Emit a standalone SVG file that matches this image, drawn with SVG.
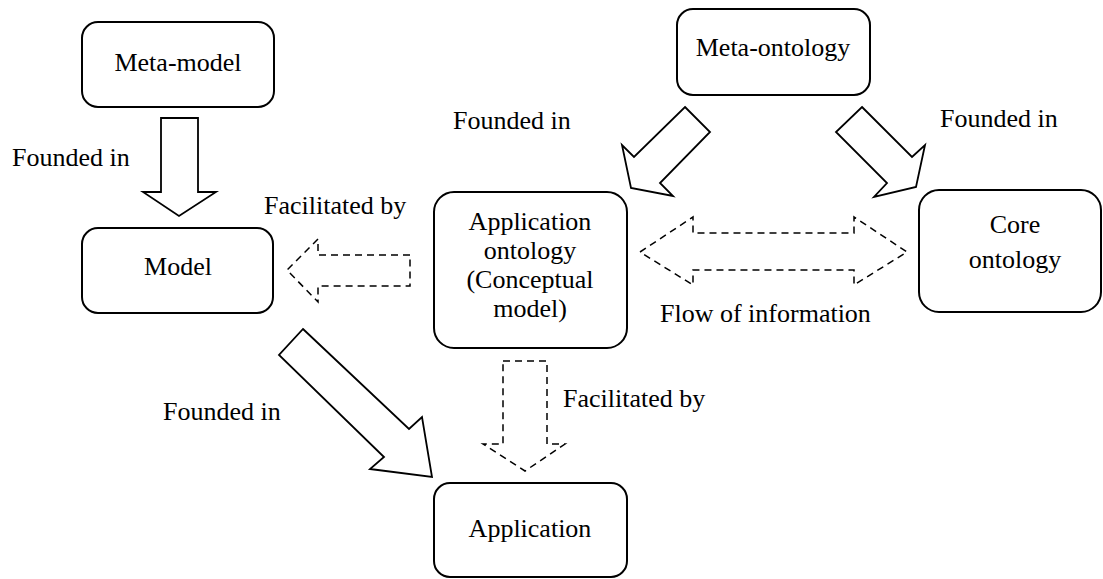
<svg xmlns="http://www.w3.org/2000/svg" width="1103" height="579" viewBox="0 0 1103 579">
<style>
.box{fill:#fff;stroke:#000;stroke-width:2}
.arr{fill:#fff;stroke:#000;stroke-width:1.8;stroke-linejoin:miter}
.dash{fill:none;stroke:#000;stroke-width:1.5;stroke-dasharray:7,5}
.t{font-family:'Liberation Serif','Times New Roman',Times,serif;font-size:26px;fill:#000}
.c{text-anchor:middle}
</style>
<rect width="1103" height="579" fill="#fff"/>
<g id="connectors">
<polygon class="arr" points="161,118 198,118 198,192 216,192 179,216 143,192 161,192"/>
<polygon class="arr" points="685,107 710,132 660,183 673,196 631,188 622,145 634,157"/>
<polygon class="arr" points="862,107 912,157 925,145 916,187 874,197 887,183 836,132"/>
<polygon class="arr" points="303,329 409,429 422,417 432,477 370,469 384,457 279,355"/>
<polygon class="dash" points="410,255 318,255 318,239 287,270 318,302 318,286 410,286"/>
<polygon class="dash" points="503,361 547,361 547,444 565,444 525,471 483,444 503,444"/>
<polygon class="dash" points="640,252 693,217 693,233 854,233 854,217 907,252 854,285 854,270 693,270 693,285"/>
</g>
<g id="labels">
<text class="t" x="12" y="166">Founded in</text>
<text class="t" x="453" y="129">Founded in</text>
<text class="t" x="940" y="127">Founded in</text>
<text class="t" x="264" y="214">Facilitated by</text>
<text class="t" x="660" y="322">Flow of information</text>
<text class="t" x="163" y="420">Founded in</text>
<text class="t" x="563" y="407">Facilitated by</text>
</g>
<g id="meta-model"><rect class="box" x="82" y="22" width="192" height="85" rx="16"/><text class="t c" x="178" y="71">Meta-model</text></g>
<g id="model"><rect class="box" x="82" y="228" width="191" height="85" rx="16"/><text class="t c" x="178" y="275">Model</text></g>
<g id="meta-ontology"><rect class="box" x="677" y="9" width="193" height="86" rx="16"/><text class="t c" x="773" y="56">Meta-ontology</text></g>
<g id="application-ontology"><rect class="box" x="434" y="192" width="193" height="156" rx="20"/>
<text class="t c" x="530" y="230">Application</text>
<text class="t c" x="530" y="259">ontology</text>
<text class="t c" x="530" y="288">(Conceptual</text>
<text class="t c" x="530" y="317">model)</text></g>
<g id="core-ontology"><rect class="box" x="919" y="190" width="182" height="122" rx="20"/>
<text class="t c" x="1015" y="233">Core</text>
<text class="t c" x="1015" y="268">ontology</text></g>
<g id="application"><rect class="box" x="434" y="483" width="193" height="94" rx="16"/><text class="t c" x="530" y="537">Application</text></g>
</svg>
